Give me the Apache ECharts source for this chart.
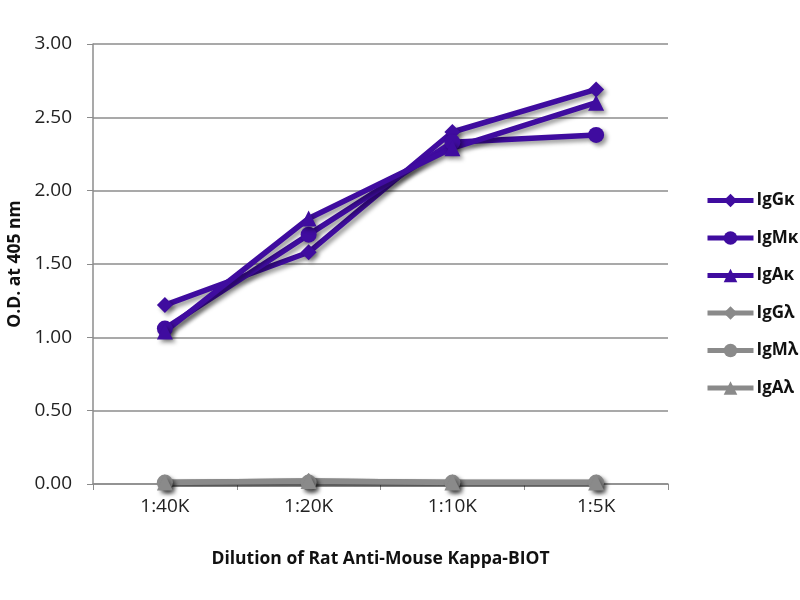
<!DOCTYPE html>
<html>
<head>
<meta charset="utf-8">
<script src="https://cdn.jsdelivr.net/npm/echarts@6/dist/echarts.min.js"></script>
<style>
  html, body { margin: 0; padding: 0; background: #fff; }
  #main { width: 800px; height: 600px; }
</style>
</head>
<body>
<div id="main"></div>
<script>
// dilution categories on x
var dilutions = ['1:40K', '1:20K', '1:10K', '1:5K'];
// O.D. at 405 nm
var igGk = [1.22, 1.58, 2.40, 2.69];
var igMk = [1.06, 1.70, 2.33, 2.38];
var igAk = [1.04, 1.81, 2.29, 2.60];
var igGl = [0.01, 0.02, 0.01, 0.01];
var igMl = [0.01, 0.01, 0.01, 0.01];
var igAl = [0.01, 0.02, 0.01, 0.01];
var yTicks = [0, 0.5, 1, 1.5, 2, 2.5, 3];

var purple = '#3f0c9f';
var grey = '#8a8a8a';
var font = '"Open Sans", "Noto Sans", sans-serif';

function makeSeries(name, data, color, symbol, size) {
    return {
        name: name,
        type: 'line',
        data: data,
        symbol: symbol,
        symbolSize: size,
        color: color,
        lineStyle: {
            width: 5.5,
            color: color,
            shadowColor: 'rgba(0,0,0,0.4)',
            shadowBlur: 4,
            shadowOffsetX: 3,
            shadowOffsetY: 3
        },
        itemStyle: {
            color: color,
            shadowColor: 'rgba(0,0,0,0.4)',
            shadowBlur: 4,
            shadowOffsetX: 3,
            shadowOffsetY: 3
        },
        emphasis: { disabled: true }
    };
}

var myChart = echarts.init(document.getElementById('main'));
myChart.setOption({
    animation: false,
    grid: { left: 93, right: 132, top: 44, bottom: 116, outerBoundsMode: 'none', containLabel: false },
    legend: {
        orient: 'vertical',
        left: 700,
        top: 187,
        itemWidth: 46,
        itemHeight: 17,
        itemGap: 20.5,
        lineStyle: { width: 5, shadowBlur: 0, shadowOffsetX: 0, shadowOffsetY: 0 },
        itemStyle: { shadowBlur: 0, shadowOffsetX: 0, shadowOffsetY: 0 },
        textStyle: { fontFamily: font, fontWeight: 'bold', fontSize: 17, color: '#111', padding: [0, 0, 0, -2] },
        data: ['IgGκ', 'IgMκ', 'IgAκ', 'IgGλ', 'IgMλ', 'IgAλ']
    },
    xAxis: {
        type: 'category',
        data: dilutions,
        boundaryGap: true,
        name: 'Dilution of Rat Anti-Mouse Kappa-BIOT',
        nameLocation: 'middle',
        nameGap: 66,
        nameTextStyle: { fontFamily: font, fontWeight: 'bold', fontSize: 17.5, color: '#111' },
        axisLine: { lineStyle: { color: '#8c8c8c', width: 1.5 } },
        axisTick: { show: true, length: 6, lineStyle: { color: '#8c8c8c' } },
        axisLabel: { fontFamily: font, fontSize: 19, color: '#222', margin: 13 }
    },
    yAxis: {
        type: 'value',
        min: yTicks[0],
        max: yTicks[yTicks.length - 1],
        interval: 0.5,
        name: 'O.D. at 405 nm',
        nameLocation: 'middle',
        nameGap: 66,
        nameTextStyle: { fontFamily: font, fontWeight: 'bold', fontSize: 17.5, color: '#111' },
        axisLine: { show: true, lineStyle: { color: '#8c8c8c', width: 1.5 } },
        axisTick: { show: true, length: 6, lineStyle: { color: '#8c8c8c' } },
        splitLine: { lineStyle: { color: '#8c8c8c', width: 1.5 } },
        axisLabel: {
            fontFamily: font, fontSize: 19, color: '#222', margin: 21,
            formatter: function (v) { return v.toFixed(2); }
        }
    },
    series: [
        makeSeries('IgGκ', igGk, purple, 'diamond', 16),
        makeSeries('IgMκ', igMk, purple, 'circle', 16),
        makeSeries('IgAκ', igAk, purple, 'triangle', 16),
        makeSeries('IgGλ', igGl, grey, 'diamond', 16),
        makeSeries('IgMλ', igMl, grey, 'circle', 16),
        makeSeries('IgAλ', igAl, grey, 'triangle', 16)
    ]
});
</script>
</body>
</html>
